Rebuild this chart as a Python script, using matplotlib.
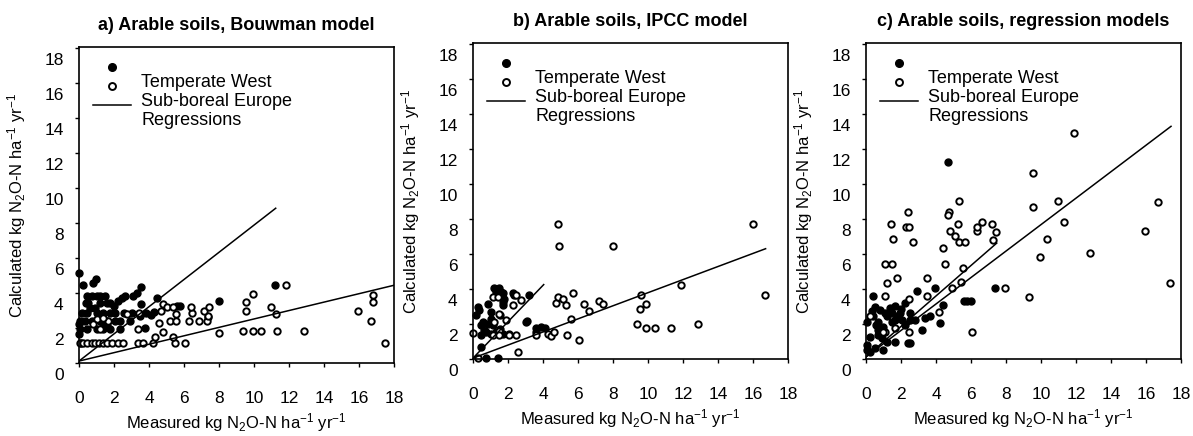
import matplotlib
matplotlib.use('Agg')
import matplotlib.pyplot as plt
import numpy as np
from matplotlib.lines import Line2D
from matplotlib.legend_handler import HandlerLine2D
from matplotlib.transforms import Affine2D, ScaledTranslation

plt.rcParams['font.family'] = ['Liberation Sans', 'DejaVu Sans']
plt.rcParams['mathtext.fontset'] = 'custom'
plt.rcParams['mathtext.rm'] = 'Liberation Sans'
plt.rcParams['mathtext.it'] = 'Liberation Sans:italic'

# ---- data ----
titles = ['a) Arable soils, Bouwman model',
          'b) Arable soils, IPCC model',
          'c) Arable soils, regression models']
legend_labels = ['Temperate West', 'Sub-boreal Europe', 'Regressions']
tick_values = [0, 2, 4, 6, 8, 10, 12, 14, 16, 18]

# panel a
a_tw_x = [0, 0.25, 0.82, 0.95, 0.48, 0.72, 1.0, 1.2, 1.48, 0.38, 0.53, 1.2, 1.58, 1.77, 2.24, 2.43,
          2.62, 3.1, 3.29, 3.54, 3.57, 4.43, 5.6, 5.8, 7.98, 11.18, 0.15, 0.44, 1.0, 1.39, 1.77, 2.05,
          2.57, 3.0, 3.48, 3.8, 4.1, 4.3, 7.36, 0.06, 0.34, 0.72, 1.2, 1.58, 2.05, 2.9, 0.06, 0.48,
          1.0, 1.39, 1.77, 2.34, 0, 0, 3.76, 2.34, 0.1, 0.6, 0.9, 1.3, 1.6, 2.0]
a_tw_y = [5.81, 5.1, 5.24, 5.43, 4.48, 4.48, 4.48, 4.48, 4.48, 4.06, 4.06, 4.06, 4.06, 4.06, 4.19, 4.38,
          4.48, 4.48, 4.63, 5.0, 4.0, 4.34, 3.9, 3.9, 4.19, 5.1, 3.52, 3.52, 3.52, 3.52, 3.52, 3.52,
          3.52, 3.52, 3.33, 3.5, 3.4, 3.55, 3.3, 3.05, 3.05, 3.05, 3.05, 3.05, 3.05, 3.05, 2.57, 2.57,
          2.57, 2.57, 2.57, 2.57, 2.29, 2.86, 2.67, 3.05, 1.81, 3.8, 3.8, 3.0, 2.8, 3.9]
a_sb_x = [0.06, 0.25, 0.48, 0.72, 0.91, 1.16, 1.39, 1.62, 1.86, 2.24, 2.53, 3.38, 3.67, 4.24, 5.48, 6.05,
          4.33, 4.81, 5.38, 7.98, 9.37, 9.94, 10.42, 11.31, 12.83, 17.49, 3.38,
          1.67, 5.19, 5.57, 6.27, 6.84, 7.32, 7.38, 16.69,
          2.72, 4.58, 5.57, 6.48, 7.13, 9.56, 11.24, 15.97,
          4.81, 5.0, 5.38, 6.39, 7.41, 9.56, 10.95, 16.79,
          4.71, 9.94, 11.84, 16.79, 1.0, 1.39, 1.2, 0.8, 3.4]
a_sb_y = [1.81] * 16 + [2.15, 2.42, 2.15, 2.38, 2.48, 2.48, 2.48, 2.48, 2.48, 1.81, 2.6,
                        3.05, 3.05, 3.05, 3.05, 3.05, 3.05, 3.33, 3.05,
                        3.43, 2.95, 3.43, 3.52, 3.62, 3.62, 3.47, 3.62,
                        4.0, 3.87, 3.87, 3.87, 3.87, 4.13, 3.87, 4.13,
                        3.62, 4.57, 5.1, 4.53, 3.14, 3.24, 2.6, 2.9, 3.5]
a_reg = [([0, 11.24], [0.76, 9.49]), ([0, 18], [0.76, 5.09])]

# panel b
b_tw_x = [1.22, 1.5, 1.7, 0.84, 0.36, 1.03, 0.55, 0.84, 1.13, 0.74, 1.03, 1.7, 2.08, 3.03, 3.6, 3.9,
          4.1, 3.18, 2.27, 0.46, 0.74, 1.41, 1.7, 0.15, 0.48, 0.48, 1.33, 1.52, 1.71, 1.05, 1.52,
          1.75, 3.1, 3.62, 0.3, 0.6, 1.3, 1.6, 2.35]
b_tw_y = [4.7, 4.7, 4.4, 3.8, 3.43, 3.33, 2.76, 2.67, 2.57, 2.19, 2.1, 2.1, 2.1, 2.76, 2.42, 2.48,
          2.4, 4.29, 4.4, 1.33, 0.7, 0.7, 3.9, 3.14, 2.57, 2.0, 2.19, 2.38, 3.71, 2.95, 3.14,
          4.1, 2.8, 2.19, 3.6, 2.3, 4.5, 4.5, 4.3]
b_sb_x = [0, 0.27, 1.12, 1.4, 1.5, 1.89, 1.22, 1.5, 1.12, 1.5, 2.08, 2.46, 2.55, 2.27, 2.46, 2.74,
          3.6, 4.27, 4.46, 4.65, 4.74, 4.84, 5.12, 5.3, 5.6, 5.69, 5.35, 6.07, 6.36, 6.65, 7.22,
          7.45, 4.86, 4.91, 8.0, 16.0, 16.7, 11.9, 9.58, 9.9, 9.56, 9.37, 9.9, 10.38, 11.33, 12.86]
b_sb_y = [2.13, 0.7, 4.19, 4.19, 3.24, 2.86, 2.76, 2.24, 2.0, 2.0, 2.0, 2.0, 1.05, 3.71, 4.29, 4.0,
          2.0, 2.1, 1.95, 2.19, 3.86, 4.19, 4.1, 3.71, 2.91, 4.43, 2.03, 1.71, 3.81, 3.37, 3.94,
          3.81, 8.38, 7.1, 7.1, 8.38, 4.29, 4.86, 4.29, 3.81, 3.48, 2.67, 2.44, 2.44, 2.44, 2.67]
b_reg = [([0, 4.04], [0.7, 4.9]), ([0, 16.72], [0.7, 6.95])]

# panel c
c_tw_x = [5.6, 5.8, 6.0, 7.38, 4.67, 3.95, 2.9, 4.42, 4.23, 3.18, 3.66, 0.42, 0.04, 0.04, 0.04, 0.23,
          0.51, 0.99, 0.23, 0.71, 0.9, 1.18, 1.66, 2.42, 2.52, 0.32, 0.51, 0.8, 1.09, 1.37, 1.66,
          1.95, 2.23, 2.52, 2.8, 0.71, 0.99, 1.66, 2.04, 1.47, 2.23, 0.71, 0.42, 1.18, 1.85, 2.52,
          3.4, 1.5, 0.6, 2.0]
c_tw_y = [3.98, 3.98, 3.98, 4.71, 11.92, 4.71, 4.52, 3.71, 2.69, 2.31, 3.08, 4.23, 2.79, 1.44, 1.15, 1.06,
          1.25, 1.19, 1.92, 2.02, 1.83, 1.63, 1.63, 1.54, 1.54, 3.37, 3.6, 3.46, 3.27, 3.56, 3.65,
          3.27, 3.85, 3.27, 2.88, 2.79, 2.5, 2.88, 2.88, 2.79, 2.6, 2.31, 3.08, 3.08, 3.08, 2.88,
          3.0, 3.3, 2.6, 3.5]
c_sb_x = [11.86, 9.57, 9.57, 5.34, 10.95, 16.69, 2.38, 4.77, 4.67, 1.43, 2.3, 2.45, 5.24, 11.29, 6.33,
          6.62, 7.19, 7.42, 6.33, 4.81, 5.09, 5.32, 5.66, 7.28, 1.56, 2.71, 10.37, 4.42, 9.92, 12.78,
          15.92, 1.09, 1.47, 4.52, 5.57, 3.47, 1.79, 1.22, 5.42, 17.39, 4.9, 7.95, 9.34, 3.51, 4.2,
          6.04, 1.09, 2.48, 0.23, 2.46, 1.09, 1.66, 0.99]
c_sb_y = [13.56, 11.25, 9.33, 9.67, 9.67, 9.62, 9.04, 9.04, 8.85, 8.37, 8.17, 8.17, 8.37, 8.46, 7.98,
          8.46, 8.37, 7.92, 8.17, 7.98, 7.65, 7.31, 7.31, 7.44, 7.5, 7.31, 7.5, 6.98, 6.5, 6.73,
          7.98, 6.06, 6.06, 6.06, 5.87, 5.29, 5.29, 5.0, 5.04, 5.0, 4.71, 4.71, 4.21, 4.23, 3.33,
          2.21, 4.23, 4.08, 3.08, 2.21, 2.21, 2.4, 2.21]
c_reg = [([0, 7.47], [0.77, 7.27]), ([0, 17.43], [0.77, 13.94])]

panels = [(a_tw_x, a_tw_y, a_sb_x, a_sb_y, a_reg),
          (b_tw_x, b_tw_y, b_sb_x, b_sb_y, b_reg),
          (c_tw_x, c_tw_y, c_sb_x, c_sb_y, c_reg)]

# ---- layout ----
W, H = 1193, 436
fig = plt.figure(figsize=(W / 100, H / 100), dpi=100)
boxes = [(79, 47, 315, 316), (473, 43, 315, 316), (866, 43, 315, 316)]
y0 = 0.65  # the x axis sits a little above the "0" label


class ShiftUp(HandlerLine2D):
    # legend symbols in the original sit above their text
    def create_artists(self, legend, orig_handle, xdescent, ydescent, width, height, fontsize, trans):
        trans = Affine2D().translate(0, 10) + trans
        return super().create_artists(legend, orig_handle, xdescent, ydescent, width, height,
                                      fontsize, trans)


for (tw_x, tw_y, sb_x, sb_y, reg), (l, t, w, h), title in zip(panels, boxes, titles):
    ax = fig.add_axes([l / W, 1 - (t + h) / H, w / W, h / H])
    ax.plot(tw_x, tw_y, 'o', ms=5.0, mfc='black', mec='black', mew=1.0, ls='none', clip_on=False)
    ax.plot(sb_x, sb_y, 'o', ms=4.6, mfc='white', mec='black', mew=1.4, ls='none', clip_on=False)
    for xs, ys in reg:
        ax.plot(xs, ys, color='black', lw=1.1)

    ax.set_xlim(0, 18)
    ax.set_ylim(y0, y0 + 18.05)
    ax.set_xticks(tick_values)
    ax.set_xticklabels([str(v) for v in tick_values])
    ax.set_yticks([v + y0 for v in tick_values])
    ax.set_yticklabels([str(v) for v in tick_values])
    ax.tick_params(axis='both', direction='out', length=3, width=1, labelsize=12.5)
    ax.tick_params(axis='x', pad=17)
    ax.tick_params(axis='y', pad=8)
    off = ScaledTranslation(0, -y0 * 17.5 / 100, fig.dpi_scale_trans)
    for lab in ax.get_yticklabels():
        lab.set_transform(lab.get_transform() + off)
    for sp in ax.spines.values():
        sp.set_linewidth(1.2)

    ax.set_title(title, fontsize=13, fontweight='bold', pad=12)
    ax.set_xlabel(r'Measured kg N$_2$O-N ha$^{-1}$ yr$^{-1}$', fontsize=12, labelpad=4)
    ax.set_ylabel(r'Calculated kg N$_2$O-N ha$^{-1}$ yr$^{-1}$', fontsize=12, labelpad=12)

    handles = [Line2D([], [], marker='o', ls='none', ms=5.5, mfc='black', mec='black'),
               Line2D([], [], marker='o', ls='none', ms=5, mfc='white', mec='black', mew=1.4),
               Line2D([], [], color='black', lw=1.1)]
    ax.legend(handles, legend_labels, loc='upper left', bbox_to_anchor=(0.045, 0.915),
              frameon=False, fontsize=13, borderpad=0, borderaxespad=0, labelspacing=0.12,
              handlelength=2.1, handletextpad=0.55,
              handler_map={Line2D: ShiftUp()})

fig.savefig('out.png', dpi=100)
